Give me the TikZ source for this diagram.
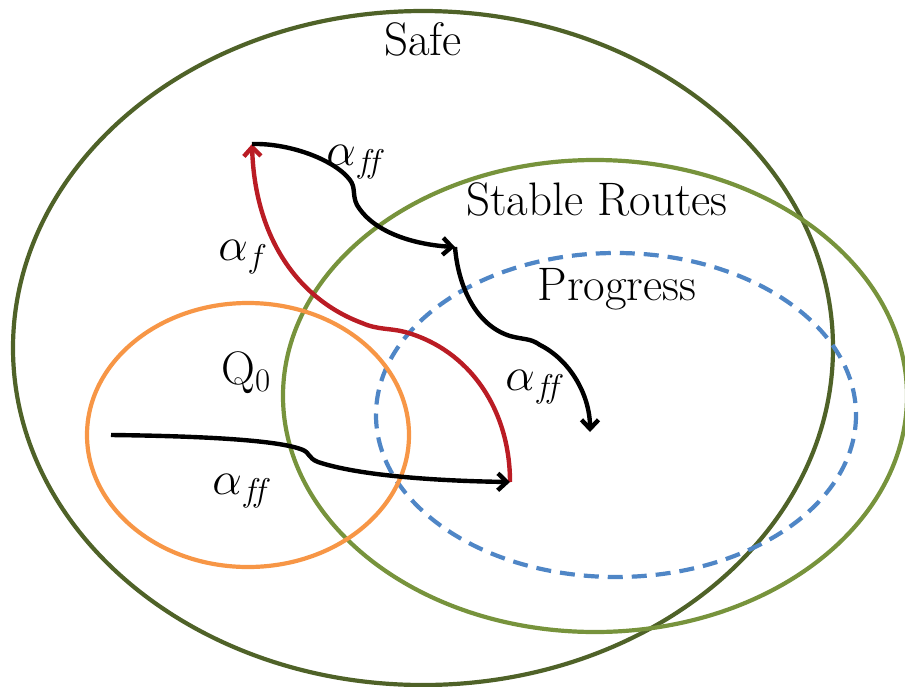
\RequirePackage{fix-cm}
\documentclass[tikz,border=0pt]{standalone}
\usetikzlibrary{arrows.meta}
\definecolor{safegreen}{HTML}{4F6228}
\definecolor{stablegreen}{HTML}{77933C}
\definecolor{progblue}{HTML}{4F86C6}
\definecolor{qorange}{HTML}{F79646}
\definecolor{fred}{HTML}{BA1C24}
\newcommand{\aff}{$\alpha_{f\mkern-5mu f}$}
\newcommand{\af}{$\alpha_{f}$}
\tikzset{
  region/.style={line width=4.2pt},
  lbl/.style={inner sep=0pt, anchor=base, font=\fontsize{47}{52}\selectfont},
  flow/.style={line width=4.4pt, -{Straight Barb[length=9pt,width=17pt]}},
}
\begin{document}
\begin{tikzpicture}[x=1pt,y=-1pt]
\useasboundingbox (0,0) rectangle (905,686);
% regions
\draw[region, safegreen] (423,348) ellipse [x radius=410, y radius=337];
\draw[region, stablegreen] (595,396) ellipse [x radius=312, y radius=236];
\draw[region, progblue, dash pattern=on 15pt off 9pt] (616,415) ellipse [x radius=240, y radius=162];
\draw[region, qorange] (248,435) ellipse [x radius=161, y radius=132];
% labels
\node[lbl] (safe) at (423,55) {Safe};
\node[lbl] (stable) at (597,215) {Stable Routes};
\node[lbl] (prog) at (617,300) {Progress};
\node[lbl] (q0) at (246,384) {Q$_0$};
\node[lbl] (l1) at (356,165) {\aff};
\node[lbl] (l2) at (243,260) {\af};
\node[lbl] (l3) at (535,390) {\aff};
\node[lbl] (l4) at (242,494) {\aff};
% trajectory points
\coordinate (s) at (111,435);
\coordinate (a) at (510,482);
\coordinate (b) at (252,144);
\coordinate (c) at (455,247);
\coordinate (d) at (590,432);
% red arc
\draw[flow, fred] (a) .. controls (510,410) and (470,350) .. (405,332)
  .. controls (390,328) and (378,330) .. (362,323)
  .. controls (300,300) and (255,240) .. (b);
% black trajectories
\draw[flow] (s) .. controls (200,436) and (280,440) .. (303,450)
  .. controls (310,453) and (308,458) .. (318,462)
  .. controls (360,476) and (440,481) .. (a);
\draw[flow] (b) .. controls (290,143) and (335,160) .. (350,180)
  .. controls (356,188) and (352,195) .. (357,205)
  .. controls (375,235) and (420,245) .. (c);
\draw[flow] (c) .. controls (458,285) and (475,325) .. (510,336)
  .. controls (525,340) and (530,338) .. (540,345)
  .. controls (570,360) and (590,395) .. (d);
\end{tikzpicture}
\end{document}
